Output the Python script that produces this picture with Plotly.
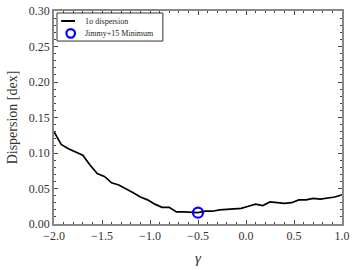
import plotly.graph_objects as go

gamma = [-2.000, -1.925, -1.850, -1.775, -1.700, -1.625, -1.550, -1.475, -1.400, -1.325,
         -1.250, -1.175, -1.100, -1.025, -0.950, -0.875, -0.800, -0.725, -0.650, -0.575,
         -0.500, -0.425, -0.350, -0.275, -0.200, -0.125, -0.050, 0.025, 0.100, 0.175,
         0.250, 0.325, 0.400, 0.475, 0.550, 0.625, 0.700, 0.775, 0.850, 0.925, 1.000]
dispersion = [0.130, 0.112, 0.106, 0.101, 0.097, 0.083, 0.071, 0.067, 0.058, 0.055,
              0.050, 0.044, 0.038, 0.034, 0.028, 0.0235, 0.0235, 0.017, 0.017, 0.017,
              0.016, 0.018, 0.018, 0.020, 0.021, 0.021, 0.022, 0.025, 0.028, 0.026,
              0.031, 0.030, 0.029, 0.030, 0.034, 0.034, 0.036, 0.035, 0.036, 0.038, 0.041]
min_gamma = [-0.5]
min_disp = [0.016]
legend_labels = ["1σ dispersion", "Jimmy+15 Minimum"]

font = "Liberation Serif, DejaVu Serif, serif"
blue = "#0000ff"

fig = go.Figure()
fig.add_trace(go.Scatter(x=gamma, y=dispersion, mode="lines",
                         line=dict(color="black", width=1.7),
                         name=legend_labels[0], showlegend=False))
fig.add_trace(go.Scatter(x=min_gamma, y=min_disp, mode="markers",
                         marker=dict(symbol="circle-open", size=10, color=blue,
                                     line=dict(width=2.2, color=blue)),
                         name=legend_labels[1], showlegend=False))

# hand-built compact legend (paper coordinates)
fig.add_shape(type="rect", xref="paper", yref="paper", x0=0.0104, x1=0.378, y0=0.859, y1=0.9906,
              line=dict(color="#333333", width=1), fillcolor="white", layer="above")
fig.add_shape(type="line", xref="paper", yref="paper", x0=0.025, x1=0.073, y0=0.953, y1=0.953,
              line=dict(color="black", width=2), layer="above")
fig.add_shape(type="circle", xref="paper", yref="paper", xsizemode="pixel", ysizemode="pixel",
              xanchor=0.058, yanchor=0.895, x0=-4.3, x1=4.3, y0=-4.3, y1=4.3,
              line=dict(color=blue, width=2.2), layer="above")
fig.add_annotation(xref="paper", yref="paper", x=0.100, y=0.953, text=legend_labels[0],
                   showarrow=False, xanchor="left", yanchor="middle",
                   font=dict(family=font, size=8, color="#222222"))
fig.add_annotation(xref="paper", yref="paper", x=0.100, y=0.895, text=legend_labels[1],
                   showarrow=False, xanchor="left", yanchor="middle",
                   font=dict(family=font, size=8, color="#222222"))

axis_common = dict(showgrid=False, zeroline=False, showline=True, linecolor="#888888",
                   linewidth=1.5, mirror="allticks", ticks="inside", ticklen=4,
                   tickcolor="#444444", tickwidth=1, automargin=False,
                   tickfont=dict(family=font, size=12, color="#333333"))

fig.update_layout(
    width=360, height=270,
    margin=dict(l=54, r=18, t=11, b=46),
    paper_bgcolor="white", plot_bgcolor="white",
    font=dict(family=font, color="#333333"),
    showlegend=False,
    xaxis=dict(range=[-2.0, 1.0], tickvals=[-2.0, -1.5, -1.0, -0.5, 0.0, 0.5, 1.0],
               ticktext=["−2.0", "−1.5", "−1.0", "−0.5", "0.0", "0.5", "1.0"],
               minor=dict(dtick=0.1, ticks="inside", ticklen=2, tickcolor="#444444"),
               title=dict(text="<i>γ</i>", font=dict(family=font, size=15, color="#333333"),
                          standoff=10),
               **axis_common),
    yaxis=dict(range=[0.0, 0.30], tickvals=[0.0, 0.05, 0.10, 0.15, 0.20, 0.25, 0.30],
               ticktext=["0.00", "0.05", "0.10", "0.15", "0.20", "0.25", "0.30"],
               minor=dict(dtick=0.01, ticks="inside", ticklen=2, tickcolor="#444444"),
               title=dict(text="Dispersion [dex]", font=dict(family=font, size=14, color="#333333"),
                          standoff=8),
               **axis_common),
)

fig.write_html("out.html", config={"displayModeBar": False},
               post_script="document.body.style.margin='0';document.body.style.overflow='hidden';")
